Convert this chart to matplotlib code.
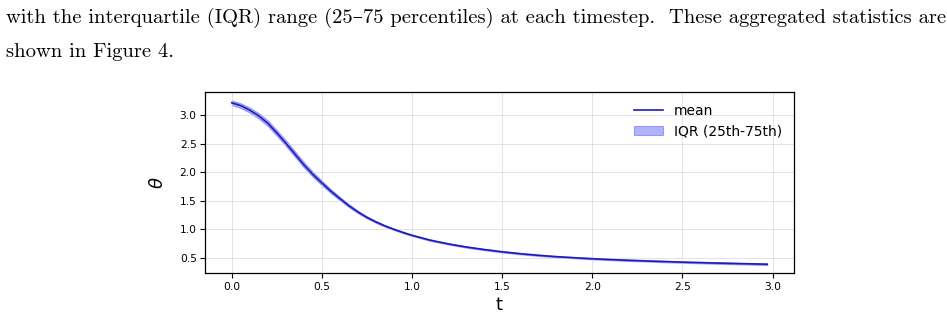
import matplotlib
matplotlib.use("Agg")
import matplotlib.pyplot as plt

# ---- data ----
t = [0.0, 0.05, 0.1, 0.15, 0.2, 0.25, 0.3, 0.35, 0.4, 0.45, 0.5, 0.55, 0.6, 0.65,
     0.7, 0.75, 0.8, 0.85, 0.9, 0.95, 1.0, 1.1, 1.2, 1.3, 1.4, 1.5, 1.6, 1.7, 1.8,
     1.9, 2.0, 2.1, 2.2, 2.3, 2.4, 2.5, 2.6, 2.7, 2.8, 2.9, 2.97]
theta_mean = [3.22, 3.17, 3.09, 2.99, 2.86, 2.69, 2.51, 2.32, 2.13, 1.96, 1.81,
              1.665, 1.535, 1.41, 1.30, 1.205, 1.125, 1.055, 0.995, 0.94, 0.89,
              0.805, 0.74, 0.685, 0.64, 0.60, 0.567, 0.539, 0.515, 0.496, 0.479,
              0.464, 0.451, 0.44, 0.429, 0.419, 0.41, 0.402, 0.394, 0.387, 0.382]
theta_q25 = [3.18, 3.128, 3.045, 2.942, 2.81, 2.64, 2.46, 2.27, 2.082, 1.915, 1.77,
             1.63, 1.505, 1.384, 1.278, 1.186, 1.108, 1.04, 0.981, 0.927, 0.878,
             0.793, 0.728, 0.673, 0.628, 0.588, 0.555, 0.527, 0.503, 0.484, 0.467,
             0.452, 0.439, 0.428, 0.416, 0.406, 0.397, 0.388, 0.380, 0.373, 0.367]
theta_q75 = [3.26, 3.212, 3.135, 3.038, 2.91, 2.74, 2.56, 2.37, 2.178, 2.005, 1.85,
             1.70, 1.565, 1.436, 1.322, 1.224, 1.142, 1.07, 1.009, 0.953, 0.902,
             0.817, 0.752, 0.697, 0.652, 0.612, 0.579, 0.551, 0.527, 0.508, 0.491,
             0.476, 0.463, 0.452, 0.442, 0.432, 0.423, 0.416, 0.408, 0.401, 0.397]
x_ticks = [0.0, 0.5, 1.0, 1.5, 2.0, 2.5, 3.0]
y_ticks = [0.5, 1.0, 1.5, 2.0, 2.5, 3.0]
line1 = "with the interquartile (IQR) range (25\u201375 percentiles) at each timestep.  These aggregated statistics are"
line2 = "shown in Figure 4."

W, H, DPI = 947, 318, 100
fig = plt.figure(figsize=(W / DPI, H / DPI), dpi=DPI)

# ---- surrounding paper text ----
serif = ['cmr10', 'DejaVu Serif']
txt1 = fig.text(6 / W, 1 - 18 / H, line1, ha='left', va='center',
                family=serif, fontsize=12)
fig.canvas.draw()
r = fig.canvas.get_renderer()
wpx = txt1.get_window_extent(r).width
fs = 12 * (936 / wpx)
txt1.set_fontsize(fs)
fig.text(6 / W, 1 - 52 / H, line2, ha='left', va='center', family=serif, fontsize=fs)

# ---- chart ----
ax = fig.add_axes([205 / W, 1 - 273.3 / H, (794 - 205) / W, (273.3 - 92.3) / H])
ax.fill_between(t, theta_q25, theta_q75, color='blue', alpha=0.3,
                linewidth=0.8, label='IQR (25th-75th)')
ax.plot(t, theta_mean, color='#1c1cb4', linewidth=1.2, label='mean')

ax.set_xticks(x_ticks)
ax.set_yticks(y_ticks)
ax.tick_params(labelsize=7.7, length=3.5, width=0.8, pad=2.5)
ax.grid(True, color='#d0d0d0', alpha=0.6, linewidth=0.7)
for s in ax.spines.values():
    s.set_linewidth(0.9)
ax.set_xlabel('t', fontsize=13, labelpad=3)
ax.set_ylabel(r'$\theta$', fontsize=13, labelpad=9)

h, l = ax.get_legend_handles_labels()
ax.legend(h[::-1], l[::-1], loc='upper right', frameon=False, fontsize=10,
          handlelength=2.1, borderaxespad=0.45, labelspacing=0.45)

fig.savefig('out.png', dpi=DPI)
